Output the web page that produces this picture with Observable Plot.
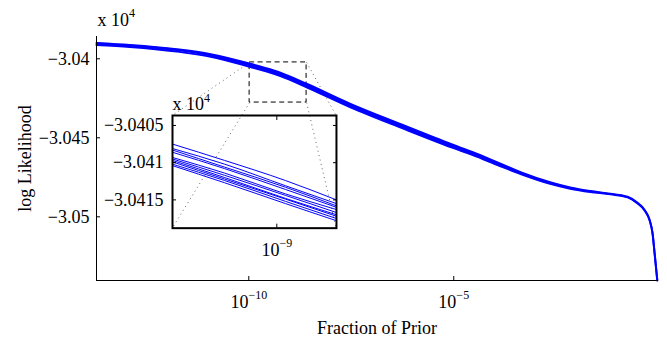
<!DOCTYPE html>
<html><head><meta charset="utf-8">
<script src="https://cdn.jsdelivr.net/npm/d3@7"></script>
<script src="https://cdn.jsdelivr.net/npm/@observablehq/plot@0.6"></script>
<style>
body{margin:0;background:#fff}
#wrap{position:relative;width:667px;height:344px;overflow:hidden}
#wrap svg text{font-family:"Liberation Serif","Times New Roman",serif}
</style>
</head><body><div id="wrap"></div>
<script>
// ---- data (x as log10 exponents of "Fraction of Prior"; y in units of 10^4) ----
const mainExp   = [-13.715,-12.9,-11.76,-10.93,-9.96,-9.6,-9.23,-8.59,-7.52,-6.26,-5.04,-4.55,-3.86,-3.37,-2.65,-2.16,-1.67,-1.18,-0.76,-0.54,-0.34,-0.22,-0.15,-0.10,-0.035];
const mainUpper = [-3.03900,-3.03913,-3.03940,-3.03971,-3.04032,-3.04058,-3.04088,-3.04158,-3.04285,-3.04417,-3.04542,-3.04590,-3.04664,-3.04717,-3.04781,-3.04814,-3.04837,-3.04854,-3.04873,-3.04907,-3.04958,-3.05021,-3.05104,-3.05230,-3.05401];
const mainLower = [-3.03912,-3.03925,-3.03954,-3.03987,-3.04052,-3.04078,-3.04110,-3.04180,-3.04307,-3.04439,-3.04562,-3.04608,-3.04680,-3.04729,-3.04791,-3.04822,-3.04843,-3.04858,-3.04877,-3.04911,-3.04962,-3.05025,-3.05108,-3.05234,-3.05403];

const insetExp = [-9.6,-9.3,-8.95,-8.657];
const insetRuns = [
  [-3.04075,-3.04097,-3.04124,-3.04150],
  [-3.04081,-3.04102,-3.04131,-3.04155],
  [-3.04083,-3.04106,-3.04133,-3.04158],
  [-3.04086,-3.04108,-3.04136,-3.04160],
  [-3.04093,-3.04114,-3.04142,-3.04163],
  [-3.04095,-3.04117,-3.04144,-3.04167],
  [-3.04097,-3.04120,-3.04148,-3.04170],
  [-3.04099,-3.04122,-3.04149,-3.04172],
  [-3.04102,-3.04124,-3.04152,-3.04175],
  [-3.04104,-3.04127,-3.04155,-3.04178]
];

const mainYTicks = [-3.04,-3.045,-3.05];
const mainXTickExp = [-10,-5];
const insetYTicks = [-3.0405,-3.041,-3.0415];
const insetXTickExp = [-9];
const mainXDomainExp = [-13.715,-0.03];
const mainYDomain = [-3.05403,-3.03859];
const insetXDomainExp = [-9.6,-8.657];
const insetYDomain = [-3.04188,-3.040366];
const zoomRectExp = [-9.98,-8.59];
const zoomRectY = [-3.04023,-3.04277];
const insetBoxExp = [-11.868,-7.868];
const insetBoxY = [-3.04359,-3.05072];

const xLabel = "Fraction of Prior";
const yLabel = "log Likelihood";
const scaleNote = "x 10^4";

// ---- helpers ----
const powFmt = d => { const e = Math.round(Math.log10(d)); return "10^" + (e < 0 ? "\u2212" : "") + Math.abs(e); };
const numFmt = d => (d < 0 ? "\u2212" : "") + Math.abs(d);
const font = {fontFamily:"Liberation Serif, Times New Roman, serif", fontSize:"18px"};

const mainData = mainExp.map((e,i) => ({x: 10**e, hi: mainUpper[i], lo: mainLower[i]}));
const rectData = [{x1: 10**zoomRectExp[0], x2: 10**zoomRectExp[1], y1: zoomRectY[0], y2: zoomRectY[1]}];
const links = [
  {x1: 10**zoomRectExp[0], y1: zoomRectY[0], x2: 10**insetBoxExp[0], y2: insetBoxY[0]},
  {x1: 10**zoomRectExp[0], y1: zoomRectY[1], x2: 10**insetBoxExp[0], y2: insetBoxY[1]},
  {x1: 10**zoomRectExp[1], y1: zoomRectY[0], x2: 10**insetBoxExp[1], y2: insetBoxY[0]},
  {x1: 10**zoomRectExp[1], y1: zoomRectY[1], x2: 10**insetBoxExp[1], y2: insetBoxY[1]}
];

const main = Plot.plot({
  width: 667, height: 344,
  marginLeft: 96, marginRight: 10, marginTop: 36, marginBottom: 64,
  style: {...font, background: "white", overflow: "visible"},
  x: {type: "log", domain: mainXDomainExp.map(e => 10**e), label: null},
  y: {domain: mainYDomain, label: null},
  marks: [
    Plot.link(links, {x1:"x1", y1:"y1", x2:"x2", y2:"y2", stroke:"#666", strokeWidth:1, strokeDasharray:"1,3.5"}),
    Plot.rect(rectData, {x1:"x1", x2:"x2", y1:"y1", y2:"y2", fill:"none", stroke:"#000", strokeWidth:1, strokeDasharray:"5,3.5"}),
    Plot.areaY(mainData, {x:"x", y1:"lo", y2:"hi", fill:"#0000ff", curve:"monotone-x"}),
    Plot.line(mainData, {x:"x", y:"hi", stroke:"#0000ff", strokeWidth:2, curve:"monotone-x"}),
    Plot.line(mainData, {x:"x", y:"lo", stroke:"#0000ff", strokeWidth:2, curve:"monotone-x"}),
    Plot.frame({anchor:"left"}),
    Plot.frame({anchor:"bottom"}),
    Plot.axisY(mainYTicks, {tickSize:-4, tickPadding:11, tickFormat:numFmt, label:null}),
    Plot.axisX(mainXTickExp.map(e => 10**e), {tickSize:-4, tickPadding:19, tickFormat:powFmt, label:null}),
    Plot.text([xLabel], {frameAnchor:"bottom", dy:53, lineAnchor:"bottom", textAnchor:"middle", fontSize:18}),
    Plot.text([yLabel], {frameAnchor:"left", dx:-66, rotate:-90, lineAnchor:"bottom", textAnchor:"middle", fontSize:18}),
    Plot.text([scaleNote], {frameAnchor:"top-left", dx:1, dy:-11, lineAnchor:"bottom", textAnchor:"start", fontSize:18})
  ]
});

const wrap = document.getElementById("wrap");
wrap.appendChild(main);

// inset placement from main scales
const sx = main.scale("x"), sy = main.scale("y");
const bx1 = sx.apply(10**insetBoxExp[0]), bx2 = sx.apply(10**insetBoxExp[1]);
const by1 = sy.apply(insetBoxY[0]), by2 = sy.apply(insetBoxY[1]);
const mL = 80, mR = 10, mT = 30, mB = 40;

const insetData = insetRuns.flatMap((run,k) => run.map((v,i) => ({x: 10**insetExp[i], y: v, k})));
const inset = Plot.plot({
  width: (bx2 - bx1) + mL + mR, height: (by2 - by1) + mT + mB,
  marginLeft: mL, marginRight: mR, marginTop: mT, marginBottom: mB,
  style: {...font, background: "transparent", overflow: "visible"},
  x: {type: "log", domain: insetXDomainExp.map(e => 10**e), label: null},
  y: {domain: insetYDomain, label: null},
  marks: [
    Plot.line(insetData, {x:"x", y:"y", z:"k", stroke:"#0000ff", strokeWidth:1, curve:"monotone-x", clip:true}),
    Plot.axisY(insetYTicks, {tickSize:-4, tickPadding:13, tickFormat:numFmt, label:null}),
    Plot.axisY(insetYTicks, {anchor:"right", tickSize:-4, tickFormat:() => "", label:null}),
    Plot.axisX(insetXTickExp.map(e => 10**e), {tickSize:-4, tickPadding:19, tickFormat:powFmt, label:null}),
    Plot.axisX(insetXTickExp.map(e => 10**e), {anchor:"top", tickSize:-4, tickFormat:() => "", label:null}),
    Plot.frame({stroke:"black", strokeWidth:2}),
    Plot.text([scaleNote], {frameAnchor:"top-left", dx:0, dy:-5, lineAnchor:"bottom", textAnchor:"start", fontSize:18})
  ]
});
inset.style.position = "absolute";
inset.style.left = (bx1 - mL) + "px";
inset.style.top = (by1 - mT) + "px";
wrap.appendChild(inset);

// superscripts
const NS = "http://www.w3.org/2000/svg";
wrap.querySelectorAll("text").forEach(t => {
  if (!t.textContent.includes("^")) return;
  const [base, sup] = t.textContent.split("^");
  while (t.firstChild) t.removeChild(t.firstChild);
  const b = document.createElementNS(NS, "tspan"); b.textContent = base;
  const s = document.createElementNS(NS, "tspan"); s.textContent = sup;
  s.setAttribute("dy", "-9"); s.setAttribute("font-size", "12");
  t.appendChild(b); t.appendChild(s);
});
</script>
</body></html>
